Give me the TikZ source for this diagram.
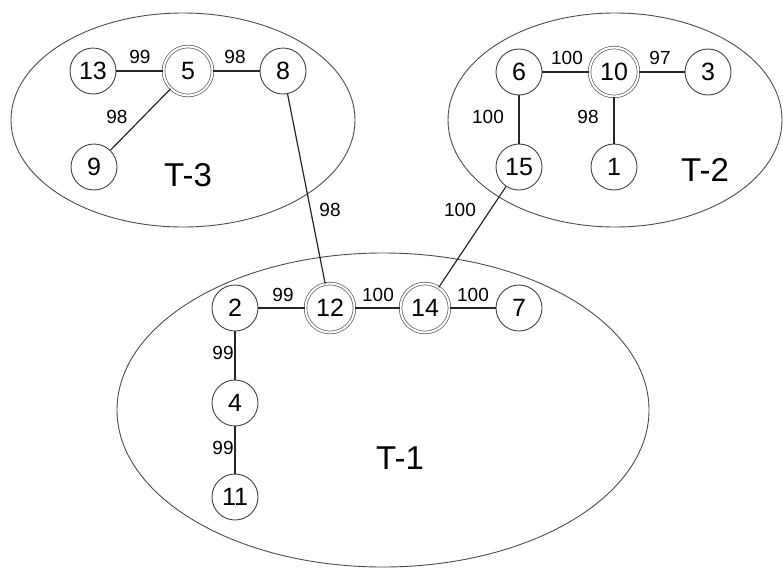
\documentclass[tikz,border=0pt]{standalone}
\usepackage{fontspec}
\setmainfont{Liberation Sans}
\begin{document}
\begin{tikzpicture}[x=1pt,y=-1pt,
  vtx/.style={circle,draw=black!75,line width=0.9pt,minimum size=46pt,inner sep=0pt,
    font=\fontsize{25}{25}\selectfont},
  root/.style={vtx,minimum size=49pt,double=white,double distance=2pt,line width=0.7pt,draw=black!65},
  link/.style={draw=black!85,line width=1.2pt},
  lbl/.style={inner sep=0pt,font=\fontsize{19}{19}\selectfont},
  tree/.style={draw=black!70,line width=0.9pt},
  tname/.style={inner sep=0pt,font=\fontsize{33}{33}\selectfont}]
\useasboundingbox (0,0) rectangle (783,568);

% clusters
\draw[tree] (183,120) ellipse [x radius=172, y radius=107];
\draw[tree] (615,120) ellipse [x radius=167, y radius=107];
\draw[tree] (383,410) ellipse [x radius=266, y radius=157];
\node[tname] (t3) at (188,175) {T-3};
\node[tname] (t2) at (705,170) {T-2};
\node[tname] (t1) at (400,458) {T-1};

% T-3
\node[vtx]  (n13) at (93,71)  {13};
\node[root] (n5)  at (188,71) {5};
\node[vtx]  (n8)  at (283,71) {8};
\node[vtx]  (n9)  at (94,167) {9};

% T-2
\node[vtx]  (n6)  at (519,72)  {6};
\node[root] (n10) at (614,72)  {10};
\node[vtx]  (n3)  at (708,72)  {3};
\node[vtx]  (n15) at (519,167) {15};
\node[vtx]  (n1)  at (614,167) {1};

% T-1
\node[vtx]  (n2)  at (235,308) {2};
\node[root] (n12) at (330,308) {12};
\node[root] (n14) at (425,308) {14};
\node[vtx]  (n7)  at (519,308) {7};
\node[vtx]  (n4)  at (235,403) {4};
\node[vtx]  (n11) at (235,497) {11};

% edges
\draw[link] (n13) -- (n5);
\draw[link] (n5) -- (n8);
\draw[link] (n5) -- (n9);
\draw[link] (n6) -- (n10);
\draw[link] (n10) -- (n3);
\draw[link] (n6) -- (n15);
\draw[link] (n10) -- (n1);
\draw[link] (n2) -- (n12);
\draw[link] (n12) -- (n14);
\draw[link] (n14) -- (n7);
\draw[link] (n2) -- (n4);
\draw[link] (n4) -- (n11);
\draw[link] (n8) -- (n12);
\draw[link] (n15) -- (n14);

% weights
\node[lbl] (w1)  at (140,57)  {99};
\node[lbl] (w2)  at (235,57)  {98};
\node[lbl] (w3)  at (117,117) {98};
\node[lbl] (w4)  at (330,210) {98};
\node[lbl] (w5)  at (567,58)  {100};
\node[lbl] (w6)  at (660,58)  {97};
\node[lbl] (w7)  at (488,117) {100};
\node[lbl] (w8)  at (588,117) {98};
\node[lbl] (w9)  at (460,210) {100};
\node[lbl] (w10) at (283,295) {99};
\node[lbl] (w11) at (378,295) {100};
\node[lbl] (w12) at (473,295) {100};
\node[lbl] (w13) at (223,353) {99};
\node[lbl] (w14) at (223,448) {99};
\end{tikzpicture}
\end{document}
